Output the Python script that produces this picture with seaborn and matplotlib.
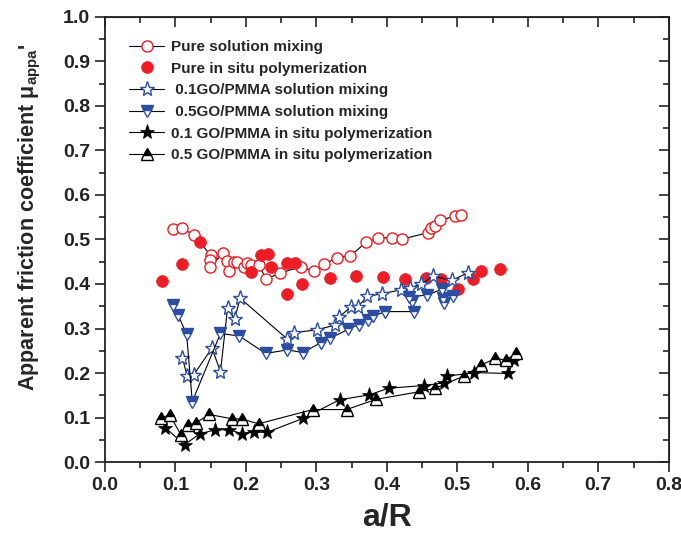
import numpy as np
import pandas as pd
import matplotlib
matplotlib.use("Agg")
import matplotlib.pyplot as plt
import seaborn as sns
from matplotlib.ticker import MultipleLocator

# datos (a/R, mu aparente)
pure_sol_x = [0.097, 0.110, 0.126, 0.150, 0.149, 0.149, 0.168, 0.173, 0.176, 0.183, 0.187,
              0.197, 0.202, 0.207, 0.218, 0.229, 0.248, 0.278, 0.296, 0.311, 0.329, 0.348,
              0.371, 0.388, 0.407, 0.422, 0.458, 0.462, 0.469, 0.476, 0.497, 0.505]
pure_sol_y = [0.523, 0.525, 0.510, 0.465, 0.454, 0.439, 0.469, 0.452, 0.429, 0.450, 0.450,
              0.438, 0.447, 0.443, 0.443, 0.411, 0.424, 0.439, 0.429, 0.444, 0.459, 0.463,
              0.494, 0.504, 0.504, 0.501, 0.515, 0.525, 0.530, 0.543, 0.553, 0.555]

pure_insitu_x = [0.081, 0.109, 0.135, 0.207, 0.222, 0.232, 0.236, 0.259, 0.259, 0.270, 0.279,
                 0.320, 0.356, 0.395, 0.426, 0.456, 0.477, 0.501, 0.522, 0.534, 0.560]
pure_insitu_y = [0.407, 0.444, 0.494, 0.426, 0.465, 0.467, 0.439, 0.378, 0.447, 0.447, 0.399,
                 0.414, 0.418, 0.415, 0.411, 0.414, 0.411, 0.388, 0.411, 0.430, 0.434]

go01_sol_x = [0.110, 0.117, 0.126, 0.152, 0.164, 0.174, 0.184, 0.192, 0.259, 0.269, 0.301,
              0.327, 0.332, 0.349, 0.359, 0.372, 0.393, 0.420, 0.433, 0.449, 0.465, 0.492, 0.515]
go01_sol_y = [0.233, 0.193, 0.196, 0.256, 0.203, 0.345, 0.321, 0.368, 0.276, 0.291, 0.297,
              0.308, 0.325, 0.349, 0.349, 0.372, 0.378, 0.387, 0.392, 0.399, 0.418, 0.408, 0.425]

go05_sol_x = [0.097, 0.104, 0.116, 0.124, 0.164, 0.191, 0.228, 0.259, 0.281, 0.306, 0.319,
              0.345, 0.360, 0.374, 0.381, 0.398, 0.438, 0.436, 0.431, 0.457, 0.478, 0.480,
              0.481, 0.494]
go05_sol_y = [0.353, 0.330, 0.287, 0.136, 0.289, 0.283, 0.244, 0.252, 0.246, 0.268, 0.278,
              0.298, 0.309, 0.319, 0.328, 0.338, 0.338, 0.362, 0.371, 0.375, 0.388, 0.368,
              0.357, 0.374]

go01_insitu_x = [0.086, 0.113, 0.135, 0.156, 0.176, 0.194, 0.211, 0.230, 0.281, 0.333, 0.375,
                 0.403, 0.453, 0.481, 0.486, 0.524, 0.572, 0.581]
go01_insitu_y = [0.077, 0.039, 0.064, 0.072, 0.073, 0.064, 0.067, 0.067, 0.098, 0.140, 0.151,
                 0.166, 0.172, 0.178, 0.193, 0.201, 0.199, 0.229]

go05_insitu_x = [0.079, 0.092, 0.108, 0.118, 0.129, 0.148, 0.181, 0.194, 0.218, 0.295, 0.343,
                 0.385, 0.446, 0.469, 0.509, 0.534, 0.554, 0.569, 0.583]
go05_insitu_y = [0.099, 0.106, 0.061, 0.083, 0.088, 0.107, 0.097, 0.097, 0.086, 0.118, 0.118,
                 0.141, 0.158, 0.166, 0.193, 0.218, 0.233, 0.229, 0.244]

rojo = '#ee1c25'
azul = '#2b4ea2'

sns.set_style('ticks')
plt.rcParams['font.family'] = ['Liberation Sans', 'DejaVu Sans']
plt.rcParams['font.weight'] = 'bold'
plt.rcParams['mathtext.default'] = 'regular'

fig = plt.figure(figsize=(6.81, 5.43), dpi=100)
ax = fig.add_axes([0.154, 0.149, 0.828, 0.82])

comun = dict(estimator=None, sort=False, color='black', linewidth=0.8, ax=ax)

sns.lineplot(x=pure_sol_x, y=pure_sol_y, marker='o', markersize=8, markerfacecolor='white',
             markeredgecolor=rojo, markeredgewidth=1.0, label='Pure solution mixing', **comun)
sns.lineplot(x=pure_insitu_x, y=pure_insitu_y, marker='o', markersize=8.5, linestyle='none',
             markerfacecolor=rojo, markeredgecolor=rojo, markeredgewidth=0.5,
             label='Pure in situ polymerization', **comun)
sns.lineplot(x=go01_sol_x, y=go01_sol_y, marker='*', markersize=11, markerfacecolor='white',
             markeredgecolor=azul, markeredgewidth=1.0, label=' 0.1GO/PMMA solution mixing', **comun)
sns.lineplot(x=go05_sol_x, y=go05_sol_y, marker='v', markersize=9, fillstyle='top',
             markerfacecolor=azul, markerfacecoloralt='white', markeredgecolor=azul,
             markeredgewidth=1.0, label=' 0.5GO/PMMA solution mixing', **comun)
sns.lineplot(x=go01_insitu_x, y=go01_insitu_y, marker='*', markersize=11, markerfacecolor='black',
             markeredgecolor='black', markeredgewidth=0.5,
             label='0.1 GO/PMMA in situ polymerization', **comun)
sns.lineplot(x=go05_insitu_x, y=go05_insitu_y, marker='^', markersize=9, fillstyle='top',
             markerfacecolor='black', markerfacecoloralt='white', markeredgecolor='black',
             markeredgewidth=1.0, label='0.5 GO/PMMA in situ polymerization', **comun)

ax.set_xlim(0, 0.8)
ax.set_ylim(0, 1.0)
ax.xaxis.set_major_locator(MultipleLocator(0.1))
ax.xaxis.set_minor_locator(MultipleLocator(0.05))
ax.yaxis.set_major_locator(MultipleLocator(0.1))
ax.yaxis.set_minor_locator(MultipleLocator(0.05))
ax.tick_params(which='both', direction='out', width=1.2, labelsize=14, colors='#222222')
ax.tick_params(which='major', length=7)
ax.tick_params(which='minor', length=4)
for lab in ax.get_xticklabels() + ax.get_yticklabels():
    lab.set_fontweight('bold')
for s in ax.spines.values():
    s.set_linewidth(1.3)
    s.set_color('#222222')

# ticks del eje de arriba y derecha hacia dentro
ax_top = ax.secondary_xaxis('top')
ax_top.xaxis.set_major_locator(MultipleLocator(0.1))
ax_top.xaxis.set_minor_locator(MultipleLocator(0.05))
ax_top.tick_params(which='both', direction='in', labeltop=False, width=1.2)
ax_top.tick_params(which='major', length=7)
ax_top.tick_params(which='minor', length=4)
ax_der = ax.secondary_yaxis('right')
ax_der.yaxis.set_major_locator(MultipleLocator(0.1))
ax_der.yaxis.set_minor_locator(MultipleLocator(0.05))
ax_der.tick_params(which='both', direction='in', labelright=False, width=1.2)
ax_der.tick_params(which='major', length=7)
ax_der.tick_params(which='minor', length=4)

ax.set_xlabel('a/R', fontsize=23, fontweight='bold', labelpad=6)
ax.set_ylabel("Apparent friction coefficient $\\mu_{appa}$'", fontsize=15.5,
              fontweight='bold', labelpad=9)
ax.yaxis.set_label_coords(-0.11, 0.55)

leg = ax.legend(loc='upper left', bbox_to_anchor=(0.043, 0.948), frameon=False,
                fontsize=11, handlelength=2.3, handletextpad=0.45, labelspacing=0.5,
                borderpad=0, borderaxespad=0)
for t in leg.get_texts():
    t.set_fontweight('bold')

fig.savefig('out.png', dpi=100)
